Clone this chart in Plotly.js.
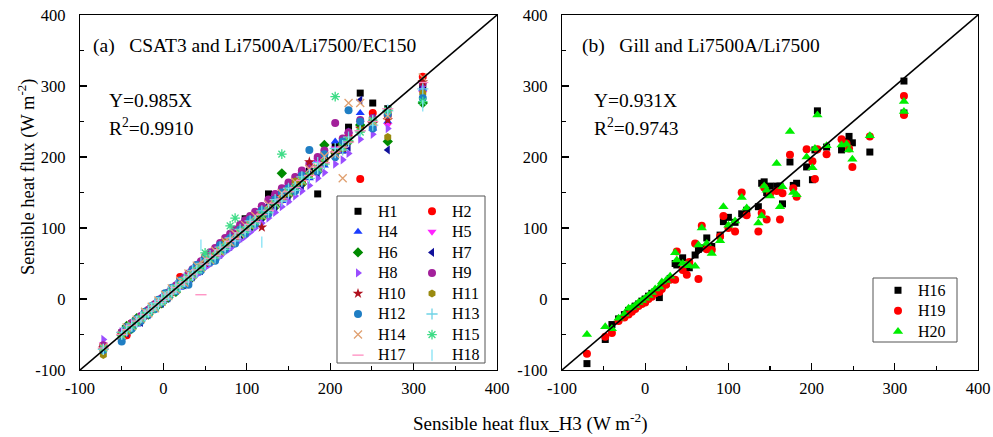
<!DOCTYPE html>
<html>
<head>
<meta charset="utf-8">
<script src="https://cdn.plot.ly/plotly-3.0.1.min.js"></script>
<style>
  html, body { margin: 0; padding: 0; background: #fff; }
  #chart { width: 993px; height: 437px; }
</style>
</head>
<body>
<div id="chart"></div>
<script>
// ---------- Panel (a): CSAT3 sites vs. reference H3 (W m-2) ----------
const h3A = [-72,-50,-44,-38,-32,-27,-22,-18,-14,-10,-6,-2,2,6,10,15,20,25,30,35,40,45,50,56,62,68,74,80,86,92,98,104,110,118,126,134,142,150,158,166,175,185,193,206,215,222,236,251,269,311];

const H1  = [-70,-48,-42,-35,-30,-26,-20,-17,-12,-9,-5,-1,3,8,11,16,21,26,32,37,42,47,52,58,63,70,76,81,89,97,113,106,112,120,148,137,146,153,160,170,180,148,196,215,210,242,290,276,268,300];
const H2  = [-66,-50,-51,-34,-33,-25,-23,-17,-15,-11,-7,-3,1,5,9,14,31,23,28,33,38,44,48,54,60,66,72,79,85,90,96,103,108,116,124,132,140,148,156,163,176,182,192,204,212,230,169,262,258,313];
const H4  = [-68,-55,-47,-34,-36,-24,-20,-14,-17,-11,-9,3,-2,10,12,21,16,24,26,43,36,52,55,64,57,76,78,89,82,94,94,114,106,128,133,146,138,162,158,178,170,196,188,222,208,236,262,240,250,296];
const H5  = [-64,-49,-41,-36,-30,-25,-20,-16,-12,-8,-4,0,4,8,13,17,23,28,34,40,45,52,57,63,70,76,82,89,95,101,108,114,120,128,136,144,152,160,168,176,186,195,203,212,220,232,248,240,245,290];
const H6  = [-70,-51,-38,-42,-27,-30,-19,-22,-11,-13,-3,-6,5,2,13,10,23,21,33,31,43,41,53,52,65,64,77,76,89,88,101,100,113,114,129,130,177,146,161,162,178,180,217,206,219,222,245,250,222,276];
const H7  = [-73,-53,-48,-40,-30,-33,-23,-22,-12,-12,-4,-6,4,2,14,13,24,20,34,31,44,40,56,52,68,63,80,74,92,86,104,98,116,111,131,127,147,141,163,157,180,176,198,200,220,214,280,255,210,298];
const H8  = [-57,-46,-40,-35,-30,-26,-21,-18,-14,-11,-7,-4,0,3,7,11,16,21,25,30,34,39,44,49,55,60,66,71,77,83,88,94,100,107,114,122,130,137,145,152,160,170,178,190,196,205,225,232,240,300];
const H9  = [-65,-47,-40,-34,-29,-24,-19,-15,-11,-7,-3,1,5,9,14,19,24,30,36,42,48,53,60,66,72,79,86,92,98,105,111,117,123,131,140,148,156,164,172,181,190,200,209,248,226,235,252,255,262,305];
const H10 = [-69,-50,-43,-37,-31,-27,-22,-17,-14,-9,-6,-1,2,7,10,15,21,25,31,36,41,46,51,57,62,69,75,81,87,93,99,105,111,101,127,135,144,151,159,167,193,186,194,206,213,225,240,247,252,306];
const H11 = [-79,-54,-46,-39,-33,-28,-23,-19,-15,-11,-7,-3,1,5,9,14,19,24,29,40,39,44,56,55,61,67,80,79,85,99,97,103,109,117,125,140,141,149,166,165,174,183,193,204,212,222,238,245,228,290];
const H12 = [-72,-60,-40,-42,-28,-31,-18,-22,-10,-14,-1,-5,8,3,16,11,26,21,20,41,48,40,58,52,54,76,70,86,78,98,92,112,106,125,120,140,150,156,152,174,210,180,204,200,222,266,250,240,260,283];
const H13 = [-71,-47,-45,-35,-33,-25,-24,-15,-16,-6,-8,2,-1,10,8,19,18,29,27,40,37,50,48,61,58,73,70,86,82,98,94,110,107,124,122,140,138,156,153,172,170,192,190,212,210,228,237,245,265,296];
const H14 = [-68,-51,-40,-38,-29,-28,-18,-20,-11,-13,-2,-4,6,4,15,13,26,23,36,34,47,44,57,55,68,67,81,80,92,92,104,104,117,118,133,134,149,150,165,167,183,185,201,204,170,276,276,250,258,312];
const H15 = [-70,-51,-43,-38,-33,-27,-22,-19,-14,-11,-6,-3,2,7,10,15,19,26,30,34,40,44,65,56,61,68,74,103,114,93,97,104,109,118,125,134,204,151,158,167,174,184,192,285,214,223,235,252,266,278];
const H17 = [-69,-50,-43,-37,-31,-28,-22,-17,-14,-10,-5,-2,1,7,10,16,20,24,31,35,41,6,49,57,61,69,73,81,85,93,97,105,109,119,125,135,141,151,157,167,174,186,192,207,214,221,237,250,268,305];
const H18 = [-71,-49,-44,-38,-32,-26,-23,-18,-13,-9,-6,-1,2,6,11,15,19,25,30,34,40,76,50,55,62,69,74,79,86,92,98,104,110,80,126,133,143,149,158,166,175,184,193,206,216,222,236,251,266,272];

// ---------- Panel (b): Gill sites vs. reference H3 (W m-2) ----------
const h3B = [-70,-48,-40,-32,-25,-20,-16,-12,-8,-4,0,4,8,12,17,20,25,30,36,38,45,50,53,60,64,68,74,80,90,94,100,108,116,122,136,140,143,146,150,158,162,165,174,178,182,194,201,204,207,218,236,242,245,249,270,311,311];

const H16 = [-91,-57,-36,-28,-22,-16,-14,-10,-7,-3,0,4,8,10,2,18,22,29,50,48,58,45,44,62,70,72,86,74,90,109,115,108,120,125,130,163,165,150,159,159,159,134,193,160,163,186,168,210,265,214,210,222,229,220,207,307,262];
const H19 = [-77,-53,-48,-31,-26,-22,-18,-14,-10,-7,-5,0,3,8,10,14,20,27,27,67,41,34,52,78,28,103,70,69,88,117,100,95,150,118,95,121,157,112,148,152,112,149,203,156,144,211,194,169,211,204,225,219,212,186,229,286,259];
const H20 = [-50,-39,-42,-27,-21,-13,-12,-9,-5,-2,1,5,9,14,17,24,26,32,65,55,50,48,47,46,76,100,78,64,82,130,104,110,143,128,107,117,159,153,145,191,130,158,236,150,147,200,185,212,259,216,217,218,210,197,230,278,264];

// axis range (also the end points of the 1:1 line) and tick labels
const axisRange = [-100, 400];
const tickVals = [-100, 0, 100, 200, 300, 400];
const tickText = ['-100', '0', '100', '200', '300', '400'];

// ---------- styling ----------
const FONT = 'Liberation Serif';

// panel (a) series; left legend column -> legend, right column -> legend2
const seriesA = [
  {name: 'H1',  y: H1,  symbol: 'square',         color: '#000000', size: 7, leg: 'legend'},
  {name: 'H2',  y: H2,  symbol: 'circle',         color: '#FF0000', size: 8, leg: 'legend2'},
  {name: 'H4',  y: H4,  symbol: 'triangle-up',    color: '#1a3cff', size: 8, leg: 'legend'},
  {name: 'H5',  y: H5,  symbol: 'triangle-down',  color: '#FF22FF', size: 8, leg: 'legend2'},
  {name: 'H6',  y: H6,  symbol: 'diamond',        color: '#008a00', size: 8, leg: 'legend'},
  {name: 'H7',  y: H7,  symbol: 'triangle-left',  color: '#10109a', size: 8, leg: 'legend2'},
  {name: 'H8',  y: H8,  symbol: 'triangle-right', color: '#9a4dff', size: 8, leg: 'legend'},
  {name: 'H9',  y: H9,  symbol: 'circle',         color: '#a3209b', size: 8, leg: 'legend2'},
  {name: 'H10', y: H10, symbol: 'star',           color: '#b0101e', size: 8, leg: 'legend'},
  {name: 'H11', y: H11, symbol: 'hexagon',        color: '#9a8a10', size: 8, leg: 'legend2'},
  {name: 'H12', y: H12, symbol: 'circle',         color: '#1f7ec4', size: 8, leg: 'legend'},
  {name: 'H13', y: H13, symbol: 'cross-thin',     color: '#6fd3e6', size: 8, leg: 'legend2', thin: true},
  {name: 'H14', y: H14, symbol: 'x-thin',         color: '#e0a070', size: 8, leg: 'legend', thin: true},
  {name: 'H15', y: H15, symbol: 'asterisk',       color: '#3ddc86', size: 8, leg: 'legend2', thin: true},
  {name: 'H17', y: H17, symbol: 'line-ew',        color: '#ff8cc0', size: 8, leg: 'legend', thin: true},
  {name: 'H18', y: H18, symbol: 'line-ns',        color: '#85e2f5', size: 8, leg: 'legend2', thin: true}
];

const seriesB = [
  {name: 'H16', y: H16, symbol: 'square',      color: '#000000', size: 7},
  {name: 'H19', y: H19, symbol: 'circle',      color: '#FF0000', size: 8},
  {name: 'H20', y: H20, symbol: 'triangle-up', color: '#00ee00', size: 9}
];

function markerFor(s) {
  if (s.thin) {
    return {symbol: s.symbol, size: s.size, color: s.color, line: {color: s.color, width: 1.3}};
  }
  return {symbol: s.symbol, size: s.size, color: s.color, line: {width: 0}};
}

// legend entries are set a little larger than the row pitch font
const legendLabel = n => '<span style="font-size:16px">' + n + '</span>';

const traces = [];
seriesA.forEach(s => traces.push({
  type: 'scatter', mode: 'markers', name: legendLabel(s.name),
  x: h3A, y: s.y, xaxis: 'x', yaxis: 'y',
  marker: markerFor(s), legend: s.leg
}));
traces.push({
  type: 'scatter', mode: 'lines', x: axisRange, y: axisRange,
  xaxis: 'x', yaxis: 'y', line: {color: '#000', width: 1.6},
  showlegend: false, hoverinfo: 'skip'
});

seriesB.forEach(s => traces.push({
  type: 'scatter', mode: 'markers', name: legendLabel(s.name),
  x: h3B, y: s.y, xaxis: 'x2', yaxis: 'y2',
  marker: markerFor(s), legend: 'legend3'
}));
traces.push({
  type: 'scatter', mode: 'lines', x: axisRange, y: axisRange,
  xaxis: 'x2', yaxis: 'y2', line: {color: '#000', width: 1.6},
  showlegend: false, hoverinfo: 'skip'
});

// pixel helpers for a 993 x 437 page
const W = 993, H = 437;
const px = v => v / W;
const py = v => (H - v) / H;

function axisBase(extra) {
  return Object.assign({
    range: axisRange, tickmode: 'array', tickvals: tickVals, ticktext: tickText,
    ticks: 'inside', ticklen: 7, tickwidth: 1.2, tickcolor: '#000',
    minor: {tickmode: 'linear', tick0: -100, dtick: 50, ticks: 'inside', ticklen: 4, tickwidth: 1.2, tickcolor: '#000'},
    showline: true, mirror: true, linecolor: '#000', linewidth: 1.3,
    showgrid: false, zeroline: false,
    tickfont: {family: FONT, size: 16.5, color: '#000'},
    fixedrange: true
  }, extra);
}

const legendFont = {family: FONT, size: 13.5, color: '#000'};
function legendAt(x, y) {
  return {x: x, y: y, xanchor: 'left', yanchor: 'top', bgcolor: 'rgba(0,0,0,0)',
          borderwidth: 0, font: legendFont, tracegroupgap: 0};
}

const annFont = {family: FONT, size: 19.5, color: '#000'};
function note(text, x, y, extra) {
  return Object.assign({text: text, x: px(x), y: py(y), xref: 'paper', yref: 'paper',
    xanchor: 'left', yanchor: 'middle', showarrow: false, font: annFont}, extra || {});
}
const sp = '\u00A0\u00A0\u00A0';

const layout = {
  width: W, height: H,
  margin: {l: 0, r: 0, t: 0, b: 0},
  paper_bgcolor: '#fff', plot_bgcolor: '#fff',
  showlegend: true,
  xaxis:  axisBase({domain: [px(80), px(497)], anchor: 'y', ticklabelstandoff: 3}),
  yaxis:  axisBase({domain: [py(370), py(15)], anchor: 'x', ticklabelstandoff: 10}),
  xaxis2: axisBase({domain: [px(562), px(978)], anchor: 'y2', ticklabelstandoff: 3}),
  yaxis2: axisBase({domain: [py(370), py(15)], anchor: 'x2', ticklabelstandoff: 10}),
  legend:  legendAt(px(338), py(196)),
  legend2: legendAt(px(412), py(196)),
  legend3: legendAt(px(878), py(275)),
  shapes: [
    {type: 'rect', xref: 'paper', yref: 'paper', x0: px(337), x1: px(485), y0: py(363), y1: py(196),
     line: {color: '#555', width: 1}, fillcolor: 'rgba(0,0,0,0)'},
    {type: 'rect', xref: 'paper', yref: 'paper', x0: px(873), x1: px(957), y0: py(342), y1: py(278),
     line: {color: '#555', width: 1}, fillcolor: 'rgba(0,0,0,0)'}
  ],
  annotations: [
    note('(a)' + sp + 'CSAT3 and Li7500A/Li7500/EC150', 91, 46),
    note('Y=0.985X', 107, 100),
    note('R<sup>2</sup>=0.9910', 107, 127),
    note('(b)' + sp + 'Gill and Li7500A/Li7500', 580, 46),
    note('Y=0.931X', 592, 100),
    note('R<sup>2</sup>=0.9743', 592, 127),
    note('Sensible heat flux (W m<sup>-2</sup>)', 26, 177,
         {xanchor: 'center', textangle: -90, font: {family: FONT, size: 18.5, color: '#000'}}),
    note('Sensible heat flux_H3 (W m<sup>-2</sup>)', 530, 422,
         {xanchor: 'center', font: {family: FONT, size: 19, color: '#000'}})
  ]
};

Plotly.newPlot('chart', traces, layout, {displayModeBar: false, staticPlot: true});
</script>
</body>
</html>
